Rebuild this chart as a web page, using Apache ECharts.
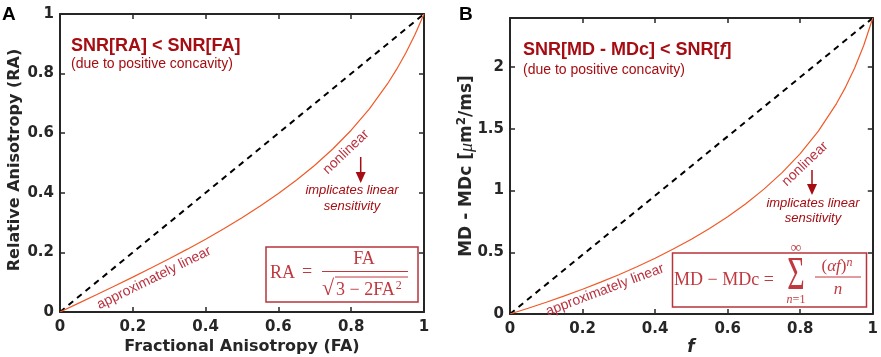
<!DOCTYPE html>
<html>
<head>
<meta charset="utf-8">
<script src="https://cdn.jsdelivr.net/npm/echarts@6/dist/echarts.min.js"></script>
<style>
  html, body { margin: 0; padding: 0; background: #fff; }
  #chart { width: 881px; height: 357px; }
</style>
</head>
<body>
<div id="chart"></div>
<script>
// panel A: relative vs fractional anisotropy
var faValues = [0, 0.05, 0.1, 0.15, 0.2, 0.25, 0.3, 0.35, 0.4, 0.45, 0.5, 0.55, 0.6, 0.65, 0.7, 0.75, 0.8, 0.85, 0.9, 0.925, 0.95, 0.975, 1];
var raValues = [0, 0.0289, 0.0579, 0.0873, 0.117, 0.1474, 0.1787, 0.2109, 0.2443, 0.2794, 0.3162, 0.3554, 0.3974, 0.4428, 0.4925, 0.5477, 0.61, 0.6816, 0.7661, 0.8148, 0.869, 0.9302, 1];
var identityA = [[0, 0], [1, 1]];

// panel B: MD - MDc vs f
var fValues = [0, 0.05, 0.1, 0.15, 0.2, 0.25, 0.3, 0.35, 0.4, 0.45, 0.5, 0.55, 0.6, 0.65, 0.7, 0.75, 0.8, 0.85, 0.9, 0.925, 0.95, 0.975, 1];
var mdValues = [0, 0.0465, 0.0953, 0.1466, 0.2007, 0.2578, 0.3185, 0.383, 0.452, 0.5261, 0.6061, 0.6931, 0.7885, 0.8938, 1.0116, 1.1451, 1.2993, 1.4816, 1.7048, 1.8383, 1.9924, 2.1748, 2.398];
var identityB = [[0, 0], [1, 2.398]];

var yMaxB = 2.398;

function zip(xs, ys) {
  return xs.map(function (x, i) { return [x, ys[i]]; });
}

var axisColor = '#262626';
var darkRed = '#a50d12';
var noteRed = '#b8323f';
var formulaRed = '#c0393f';

function axis(gridIndex, position, min, max, interval, labels) {
  return {
    type: 'value',
    gridIndex: gridIndex,
    position: position,
    min: min,
    max: max,
    interval: interval,
    splitLine: { show: false },
    axisLine: { show: true, onZero: false, lineStyle: { color: axisColor, width: 2 } },
    axisTick: { show: true, inside: true, length: 5, lineStyle: { color: axisColor, width: 1.5 } },
    axisLabel: {
      show: labels,
      margin: position === 'bottom' ? 8 : 6,
      color: axisColor,
      fontFamily: 'DejaVu Sans',
      fontWeight: 'bold',
      fontSize: 15,
      formatter: function (v) {
        var r = Math.round(v / interval) * interval;
        if (Math.abs(r - v) > 1e-6) return '';
        return String(+v.toFixed(1));
      }
    }
  };
}

function txt(x, y, text, font, fill, extra) {
  var el = {
    type: 'text', x: x, y: y, z: 10,
    style: { text: text, font: font, fill: fill, align: 'left', verticalAlign: 'middle' }
  };
  if (extra) {
    for (var k in extra) {
      if (k === 'rotation' || k === 'scaleX' || k === 'scaleY') el[k] = extra[k];
      else el.style[k] = extra[k];
    }
  }
  return el;
}

function line(x1, y1, x2, y2, color, w) {
  return { type: 'line', z: 10, shape: { x1: x1, y1: y1, x2: x2, y2: y2 }, style: { stroke: color, lineWidth: w } };
}

function arrow(x, y1, y2) {
  return [
    line(x, y1, x, y2 - 9, darkRed, 1.5),
    { type: 'polygon', z: 10, shape: { points: [[x - 5, y2 - 11], [x + 5, y2 - 11], [x, y2]] }, style: { fill: darkRed } }
  ];
}

var serif = '"Liberation Serif", "DejaVu Serif", serif';
var sans = '"Liberation Sans", Arial, sans-serif';
var dejaBold = 'bold 16px "DejaVu Sans"';
var dejaBoldB = 'bold 17px "DejaVu Sans"';

var graphics = [
  // panel letters
  txt(2, 15, 'A', 'bold 19px ' + sans, '#000'),
  txt(459, 15, 'B', 'bold 19px ' + sans, '#000'),

  // axis names
  txt(15, 160, 'Relative Anisotropy (RA)', dejaBold, axisColor, { align: 'center', rotation: Math.PI / 2 }),
  txt(242, 347, 'Fractional Anisotropy (FA)', dejaBold, axisColor, { align: 'center' }),
  txt(467, 166, '{a|MD - MDc [}{m|μ}{a|m}{s|2}{a|/ms]}', dejaBoldB, axisColor, {
    align: 'center', rotation: Math.PI / 2,
    rich: {
      a: { font: dejaBoldB, fill: axisColor },
      m: { font: 'italic 18px ' + serif, fill: axisColor },
      s: { font: 'bold 12px "DejaVu Sans"', fill: axisColor, padding: [0, 0, 10, 0] }
    }
  }),
  txt(691, 348, 'f', 'bold italic 17px "DejaVu Sans"', axisColor, { align: 'center' }),

  // panel A notes
  txt(71, 46, 'SNR[RA] < SNR[FA]', 'bold 18px ' + sans, darkRed),
  txt(71, 64, '(due to positive concavity)', '14px ' + sans, darkRed),
  txt(346, 152, 'nonlinear', '14px ' + sans, noteRed, { align: 'center', rotation: 0.76 }),
  txt(352, 190, 'implicates linear', 'italic 13px ' + sans, darkRed, { align: 'center' }),
  txt(352, 206, 'sensitivity', 'italic 13px ' + sans, darkRed, { align: 'center' }),
  txt(154, 278, 'approximately linear', '14px ' + sans, noteRed, { align: 'center', rotation: 0.46 }),

  // panel B notes
  txt(523, 50, '{b|SNR[MD - MDc] < SNR[}{i|f}{b|]}', 'bold 18px ' + sans, darkRed, {
    rich: {
      b: { font: 'bold 18px ' + sans, fill: darkRed },
      i: { font: 'bold italic 18px ' + sans, fill: darkRed }
    }
  }),
  txt(523, 70, '(due to positive concavity)', '14px ' + sans, darkRed),
  txt(805, 164, 'nonlinear', '14px ' + sans, noteRed, { align: 'center', rotation: 0.76 }),
  txt(813, 203, 'implicates linear', 'italic 13px ' + sans, darkRed, { align: 'center' }),
  txt(813, 218, 'sensitivity', 'italic 13px ' + sans, darkRed, { align: 'center' }),
  txt(605, 290, 'approximately linear', '14px ' + sans, noteRed, { align: 'center', rotation: 0.36 }),

  // formula box A
  { type: 'rect', z: 9, shape: { x: 266, y: 247, width: 152, height: 55 }, style: { fill: '#fff', stroke: '#b8343c', lineWidth: 1.5 } },
  txt(270, 273, 'RA', '18px ' + serif, formulaRed),
  txt(307, 272, '=', '18px ' + serif, formulaRed, { align: 'center' }),
  txt(364, 259, 'FA', '18px ' + serif, formulaRed, { align: 'center' }),
  line(322, 271.5, 408, 271.5, formulaRed, 1),
  txt(322, 289, '√', '22px ' + serif, formulaRed),
  line(335, 277, 408, 277, formulaRed, 1),
  txt(336, 290, '{r|3 − 2FA}{s|2}', '18px ' + serif, formulaRed, {
    rich: {
      r: { font: '18px ' + serif, fill: formulaRed },
      s: { font: '12px ' + serif, fill: formulaRed, padding: [0, 0, 9, 1] }
    }
  }),

  // formula box B
  { type: 'rect', z: 9, shape: { x: 672.5, y: 253, width: 194, height: 54 }, style: { fill: '#fff', stroke: '#b8343c', lineWidth: 1.5 } },
  txt(674, 280, 'MD − MDc =', '18px ' + serif, formulaRed),
  txt(796, 277, 'Σ', '30px ' + serif, formulaRed, { align: 'center', scaleY: 1.55 }),
  txt(796, 248, '∞', '15px ' + serif, formulaRed, { align: 'center' }),
  txt(796, 300, '{i|n}{r|=1}', '12px ' + serif, formulaRed, {
    align: 'center',
    rich: { i: { font: 'italic 12px ' + serif, fill: formulaRed }, r: { font: '12px ' + serif, fill: formulaRed } }
  }),
  txt(837, 267, '{r|(}{i|αf}{r|)}{s|n}', '17px ' + serif, formulaRed, {
    align: 'center',
    rich: {
      r: { font: '17px ' + serif, fill: formulaRed },
      i: { font: 'italic 17px ' + serif, fill: formulaRed },
      s: { font: 'italic 12px ' + serif, fill: formulaRed, padding: [0, 0, 9, 0] }
    }
  }),
  line(815, 277, 861, 277, formulaRed, 1),
  txt(838, 290, 'n', 'italic 17px ' + serif, formulaRed, { align: 'center' })
].concat(arrow(360.7, 157, 183), arrow(812, 170, 195));

var option = {
  animation: false,
  backgroundColor: '#fff',
  grid: [
    { left: 60, top: 14, width: 364, height: 298 },
    { left: 510, top: 18, width: 363, height: 296 }
  ],
  xAxis: [
    axis(0, 'bottom', 0, 1, 0.2, true),
    axis(0, 'top', 0, 1, 0.2, false),
    axis(1, 'bottom', 0, 1, 0.2, true),
    axis(1, 'top', 0, 1, 0.2, false)
  ],
  yAxis: [
    axis(0, 'left', 0, 1, 0.2, true),
    axis(0, 'right', 0, 1, 0.2, false),
    axis(1, 'left', 0, yMaxB, 0.5, true),
    axis(1, 'right', 0, yMaxB, 0.5, false)
  ],
  series: [
    {
      type: 'line', xAxisIndex: 0, yAxisIndex: 0, data: identityA, showSymbol: false, silent: true,
      lineStyle: { color: '#000', width: 2, type: [6, 5] }
    },
    {
      type: 'line', xAxisIndex: 0, yAxisIndex: 0, data: zip(faValues, raValues), showSymbol: false, silent: true,
      lineStyle: { color: '#f05a28', width: 1.2 }
    },
    {
      type: 'line', xAxisIndex: 2, yAxisIndex: 2, data: identityB, showSymbol: false, silent: true,
      lineStyle: { color: '#000', width: 2, type: [6, 5] }
    },
    {
      type: 'line', xAxisIndex: 2, yAxisIndex: 2, data: zip(fValues, mdValues), showSymbol: false, silent: true,
      lineStyle: { color: '#f05a28', width: 1.2 }
    }
  ],
  graphic: graphics
};

var myChart = echarts.init(document.getElementById('chart'));
myChart.setOption(option);
</script>
</body>
</html>
